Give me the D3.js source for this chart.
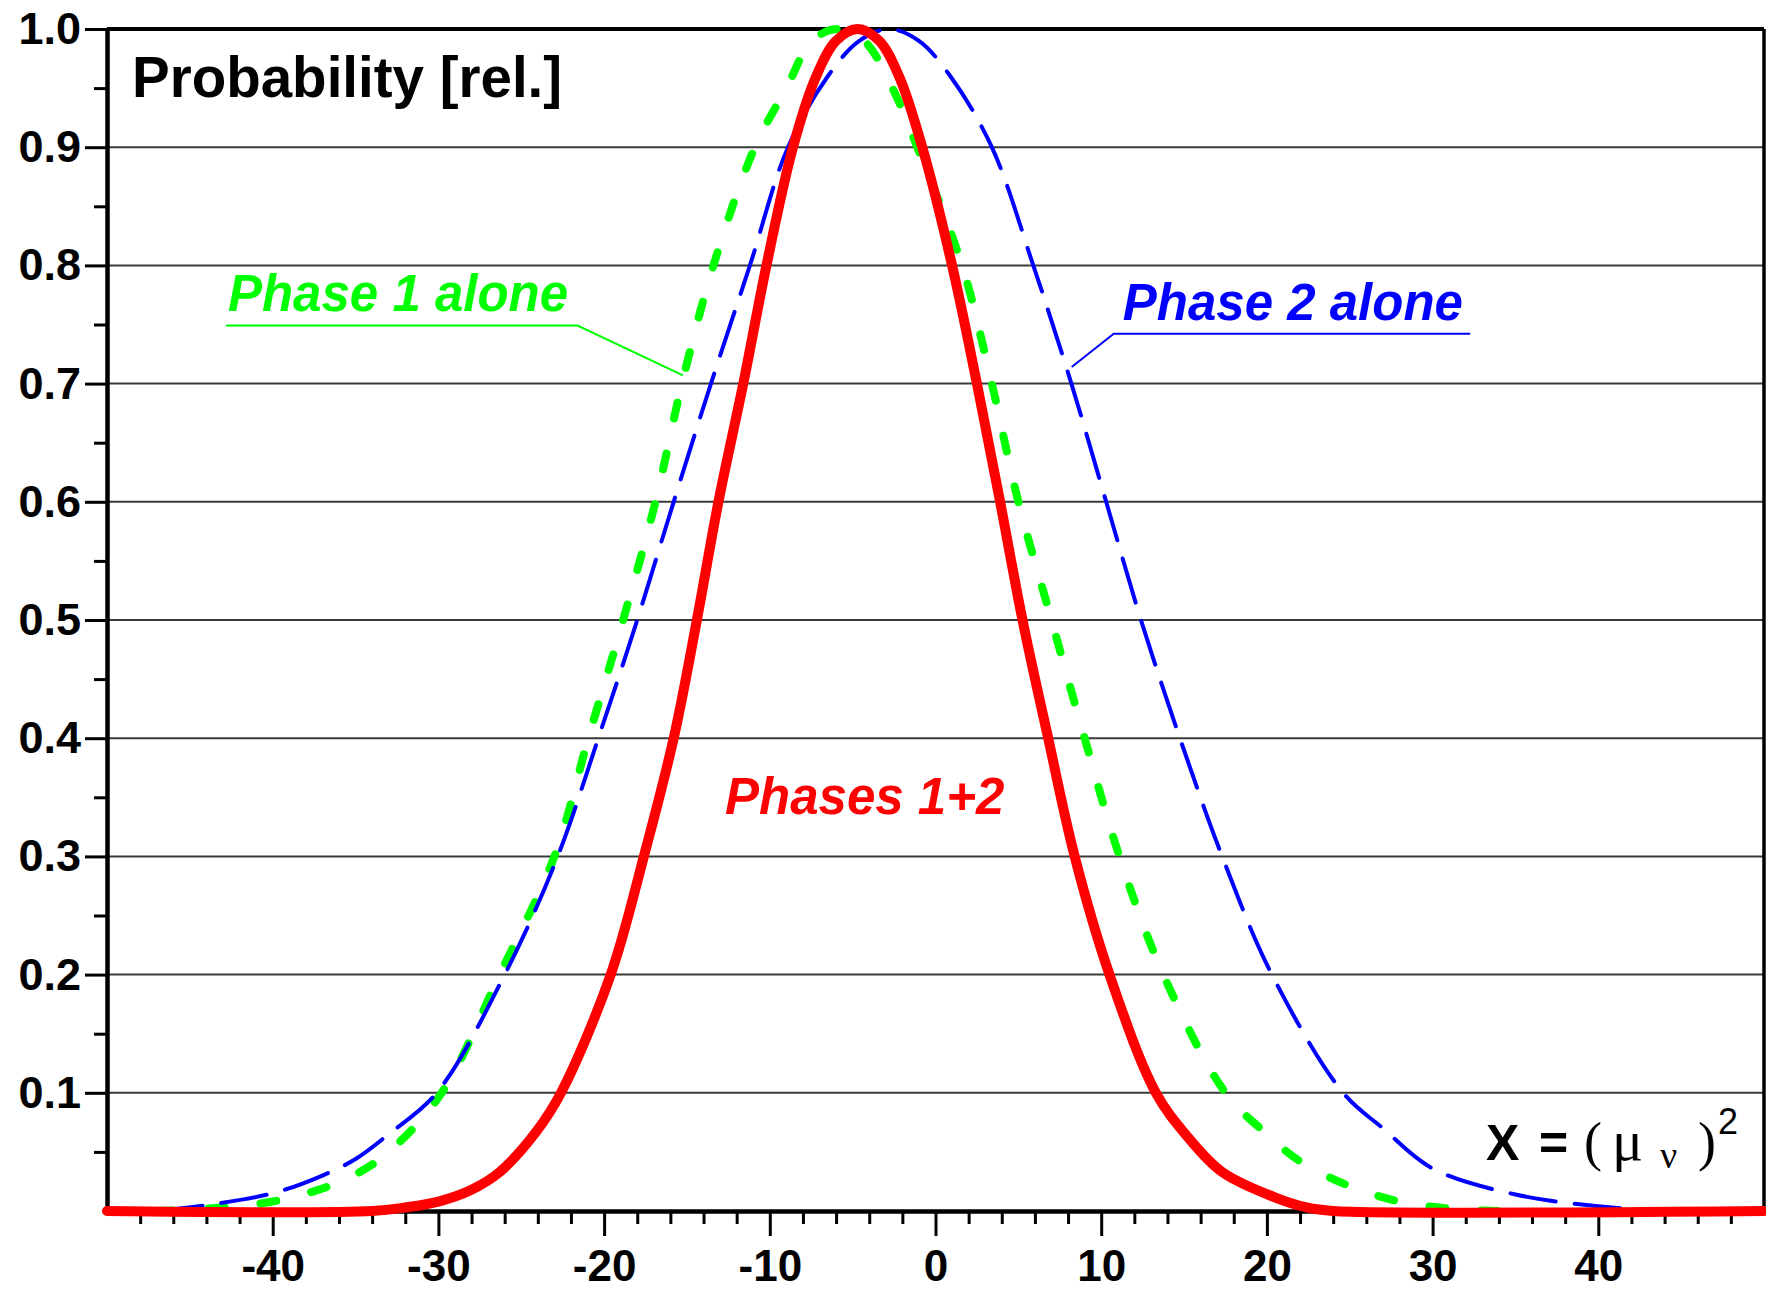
<!DOCTYPE html>
<html>
<head>
<meta charset="utf-8">
<script src="https://cdnjs.cloudflare.com/ajax/libs/d3/7.8.5/d3.min.js"></script>
<style>
	body{margin:0;background:#fff;}
	svg{display:block;}
</style>
</head>
<body>
<div id="chart"></div>
<script>
// valores
var xTicks=[-40,-30,-20,-10,0,10,20,30,40]
var yTicks=[0.1,0.2,0.3,0.4,0.5,0.6,0.7,0.8,0.9,1.0]

var phase1X=[-47,-44,-40,-37,-35,-33,-29.8,-26.3,-23.0,-20.95,-18.85,-16.9,-15.3,-13.4,-10.9,-9.0,-7.45,-5.9,-4.3,-2.6,-1.1,1.6,3.4,5.0,7.0,9.0,11.1,13.75,17.5,20,22,25,28,31,34]
var phase1Y=[0,0.002,0.008,0.019,0.031,0.05,0.1,0.2,0.3,0.4,0.5,0.6,0.7,0.8,0.9,0.95,0.99,1.0,0.99,0.95,0.9,0.8,0.7,0.6,0.5,0.4,0.3,0.2,0.1,0.065,0.042,0.021,0.008,0.002,0]

var phase2X=[-47,-44,-40,-37,-35,-33,-30.1,-26.0,-22.8,-20.35,-18.0,-15.8,-13.55,-11.2,-8.9,-6.5,-4.6,-2.8,-1.0,0.9,3.4,5.9,8.2,10.3,12.4,14.75,17.3,20.3,24.6,27,30,35,40,43,46]
var phase2Y=[0,0.005,0.015,0.03,0.044,0.065,0.1,0.2,0.3,0.4,0.5,0.6,0.7,0.8,0.9,0.96,0.99,1.0,0.99,0.96,0.9,0.8,0.7,0.6,0.5,0.4,0.3,0.2,0.1,0.07,0.036,0.014,0.004,0.001,0]

var phasesX=[-50,-34,-32,-30,-28,-26.3,-24.1,-22.6,-19.6,-17.6,-15.8,-14.4,-13.1,-11.6,-10.2,-8.6,-7.2,-6.0,-4.7,-3.4,-2.2,-0.8,1.0,2.5,3.9,5.25,6.8,8.4,10.5,13.3,15.2,17.3,20.4,22.4,24,50]
var phasesY=[0,0,0.003,0.008,0.018,0.033,0.067,0.1,0.2,0.3,0.4,0.5,0.6,0.7,0.8,0.9,0.96,0.99,1.0,0.99,0.96,0.9,0.8,0.7,0.6,0.5,0.4,0.3,0.2,0.1,0.063,0.033,0.012,0.003,0,0]

// etiquetas: [texto, x, y, color, x fin subrayado, x flecha, y flecha]
var labels=[
	['Phase 1 alone',-42.7,0.761,'#00ff00',-21.6,-15.24,0.707],
	['Phase 2 alone',11.3,0.754,'#0000ff',32.27,8.22,0.714],
	['Phases 1+2',-12.7,0.336,'#ff0000',null,null,null]
]

var W=1766,H=1289
var margin={left:107,right:2,top:29,bottom:78}

var svg=d3.select('#chart').append('svg')
	.attr('width',W).attr('height',H)
	.attr('viewBox','0 0 '+W+' '+H)
	.style('font-family','"Liberation Sans", Arial, sans-serif')

var x=d3.scaleLinear().domain([-50,50]).range([margin.left,W-margin.right])
var y=d3.scaleLinear().domain([0,1]).range([H-margin.bottom,margin.top])

// rejilla
svg.append('g').attr('class','grid')
	.selectAll('line').data(yTicks.slice(0,-1)).enter().append('line')
	.attr('x1',x(-50)).attr('x2',x(50))
	.attr('y1',function(d){return y(d)}).attr('y2',function(d){return y(d)})
	.attr('stroke','#3a3a3a').attr('stroke-width',2)

// borde superior y derecho
svg.append('line').attr('x1',x(-50)).attr('x2',x(50)).attr('y1',y(1)).attr('y2',y(1))
	.attr('stroke','#000').attr('stroke-width',4)
svg.append('line').attr('x1',x(50)).attr('x2',x(50)).attr('y1',y(1)).attr('y2',y(0))
	.attr('stroke','#000').attr('stroke-width',3.5)

// ejes
function styleAxis(g,w){
	g.select('.domain').attr('stroke','#000').attr('stroke-width',w)
	g.selectAll('.tick line').attr('stroke','#000').attr('stroke-width',3)
	g.selectAll('.tick text').attr('fill','#000').attr('font-weight','bold')
}
var yMinor=d3.range(0.05,1,0.1)
var xMinor=d3.range(-48,50,2).filter(function(v){return v%10!==0})

svg.append('g').attr('transform','translate('+x(-50)+',0)')
	.call(d3.axisLeft(y).tickValues(yMinor).tickSize(13).tickFormat('').tickSizeOuter(0))
	.call(function(g){styleAxis(g,4)})
svg.append('g').attr('transform','translate('+x(-50)+',0)')
	.call(d3.axisLeft(y).tickValues(yTicks).tickSize(22).tickPadding(4).tickFormat(d3.format('.1f')).tickSizeOuter(0))
	.call(function(g){styleAxis(g,4);g.selectAll('.tick text').attr('font-size',45)})

svg.append('g').attr('transform','translate(0,'+y(0)+')')
	.call(d3.axisBottom(x).tickValues(xMinor).tickSize(13).tickFormat('').tickSizeOuter(0))
	.call(function(g){styleAxis(g,4)})
svg.append('g').attr('transform','translate(0,'+y(0)+')')
	.call(d3.axisBottom(x).tickValues(xTicks).tickSize(25).tickPadding(14).tickFormat(function(d){return String(d)}).tickSizeOuter(0))
	.call(function(g){styleAxis(g,4);g.selectAll('.tick text').attr('font-size',44)})

// curvas
function pts(xs,ys){return xs.map(function(v,i){return [v,ys[i]]})}
var line=d3.line().x(function(d){return x(d[0])}).y(function(d){return y(d[1])}).curve(d3.curveCatmullRom.alpha(0.5))

svg.append('path').datum(pts(phase1X,phase1Y)).attr('d',line)
	.attr('fill','none').attr('stroke','#00ff00').attr('stroke-width',8)
	.attr('stroke-dasharray','16 36').attr('stroke-linecap','round')
svg.append('path').datum(pts(phase2X,phase2Y)).attr('d',line)
	.attr('fill','none').attr('stroke','#0000ff').attr('stroke-width',4)
	.attr('stroke-dasharray','46 19').attr('stroke-linecap','round')
svg.append('path').datum(pts(phasesX,phasesY)).attr('d',line)
	.attr('fill','none').attr('stroke','#ff0000').attr('stroke-width',10)
	.attr('stroke-linecap','round').attr('stroke-linejoin','round')

// textos de las curvas
labels.forEach(function(l){
	svg.append('text').attr('x',x(l[1])).attr('y',y(l[2]))
		.attr('fill',l[3]).attr('font-size',51).attr('font-weight','bold').attr('font-style','italic')
		.text(l[0])
	if(l[4]!==null){
		var ux=l[1]<l[5]?x(l[1])-2:x(l[1])-9
		var uy=y(l[2])+14
		svg.append('polyline')
			.attr('points',(l[1]<l[5]?[[ux,uy],[x(l[4]),uy],[x(l[5]),y(l[6])]]:[[x(l[4]),uy],[ux,uy],[x(l[5]),y(l[6])]]).join(' '))
			.attr('fill','none').attr('stroke',l[3]).attr('stroke-width',2)
	}
})

// titulo eje y
svg.append('text').attr('x',132).attr('y',97)
	.attr('font-size',56.5).attr('font-weight','bold').attr('fill','#000')
	.text('Probability [rel.]')

// titulo eje x
var xl=svg.append('g').attr('transform','translate('+x(33.22)+','+y(0.043)+')')
xl.append('text').attr('x',0).attr('font-size',50).attr('font-weight','bold').text('X')
xl.append('text').attr('x',53).attr('font-size',50).attr('font-weight','bold').text('=')
var serif='"Liberation Serif", "DejaVu Serif", serif'
xl.append('text').attr('x',98).attr('font-size',54).attr('font-family',serif).text('(')
xl.append('text').attr('x',126).attr('font-size',58).attr('font-family',serif).text('μ')
xl.append('text').attr('x',174).attr('y',8).attr('font-size',38).attr('font-family',serif).text('ν')
xl.append('text').attr('x',212).attr('font-size',54).attr('font-family',serif).text(')')
xl.append('text').attr('x',232).attr('y',-26).attr('font-size',36).text('2')
</script>
</body>
</html>
